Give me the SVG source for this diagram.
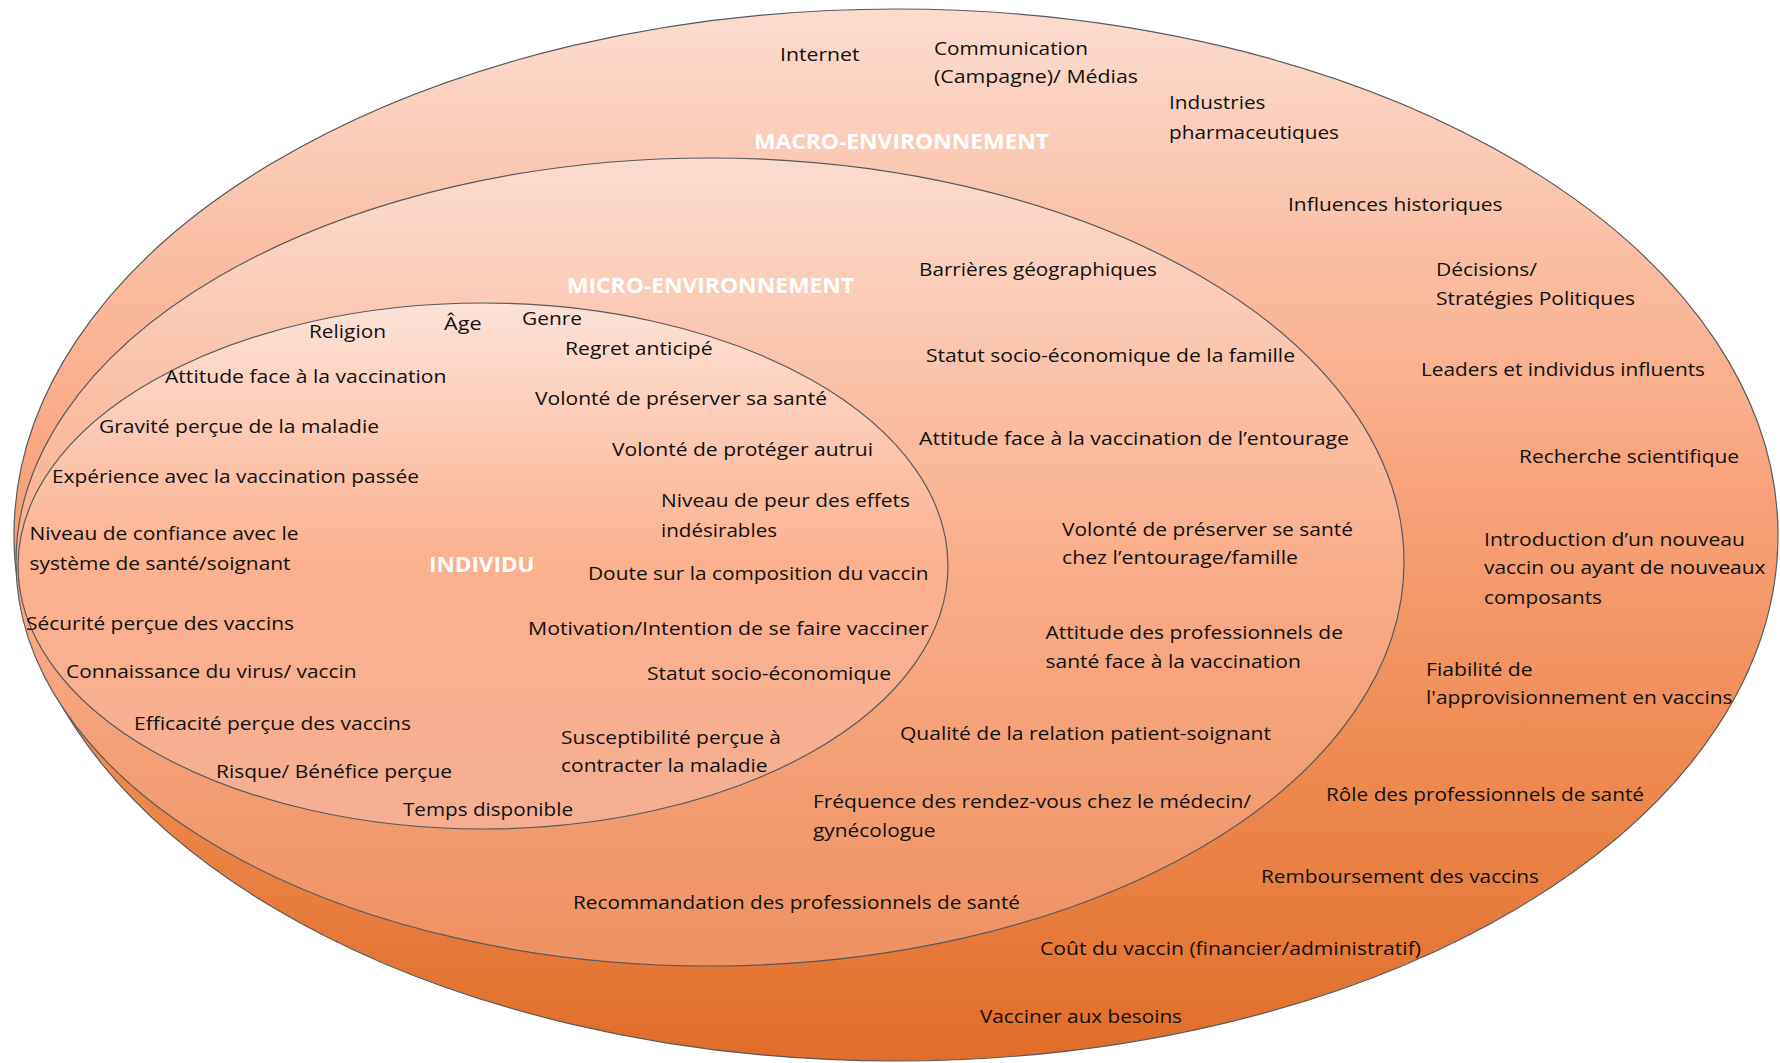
<svg xmlns="http://www.w3.org/2000/svg" width="1780" height="1063" viewBox="0 0 1780 1063">
<defs>
<linearGradient id="gOuter" x1="0" y1="0" x2="0" y2="1">
<stop offset="0" stop-color="#fcdcd0"/>
<stop offset="0.45" stop-color="#f8a37c"/>
<stop offset="0.72" stop-color="#ee8a52"/>
<stop offset="1" stop-color="#e06d28"/>
</linearGradient>
<linearGradient id="gMiddle" x1="0" y1="0" x2="0" y2="1">
<stop offset="0" stop-color="#fcdcd0"/>
<stop offset="0.5" stop-color="#f9ad8a"/>
<stop offset="1" stop-color="#ee9162"/>
</linearGradient>
<linearGradient id="gInner" x1="0" y1="0" x2="0" y2="1">
<stop offset="0" stop-color="#fde2d8"/>
<stop offset="0.5" stop-color="#fbb08e"/>
<stop offset="1" stop-color="#f5ae93"/>
</linearGradient>
<style>
.ring{stroke:#5a5a5a;stroke-width:1.2}
text{font-family:"Open Sans","Liberation Sans",sans-serif;font-size:19px;fill:#111}
.title{font-weight:bold;fill:#ffffff;font-size:22px}
</style>
</defs>

<g id="macro-environnement">
<ellipse class="ring" cx="896" cy="535" rx="882" ry="526" fill="url(#gOuter)"/>
</g>
<g id="micro-environnement">
<ellipse class="ring" cx="710" cy="562" rx="694" ry="404" fill="url(#gMiddle)"/>
</g>
<g id="individu">
<ellipse class="ring" cx="483" cy="566" rx="465" ry="263" fill="url(#gInner)"/>
</g>
<g id="connectors"/>

<g id="macro-labels">
<text class="title" x="754" y="149" textLength="295" lengthAdjust="spacingAndGlyphs">MACRO-ENVIRONNEMENT</text>
<text x="780" y="61" textLength="79.5" lengthAdjust="spacingAndGlyphs">Internet</text>
<text x="934" y="54.5" textLength="154" lengthAdjust="spacingAndGlyphs">Communication</text>
<text x="934" y="83" textLength="204" lengthAdjust="spacingAndGlyphs">(Campagne)/ Médias</text>
<text x="1169" y="109" textLength="96.5" lengthAdjust="spacingAndGlyphs">Industries</text>
<text x="1169" y="138.5" textLength="170" lengthAdjust="spacingAndGlyphs">pharmaceutiques</text>
<text x="1288" y="211" textLength="214.5" lengthAdjust="spacingAndGlyphs">Influences historiques</text>
<text x="1436" y="276" textLength="101" lengthAdjust="spacingAndGlyphs">Décisions/</text>
<text x="1436" y="305" textLength="199" lengthAdjust="spacingAndGlyphs">Stratégies Politiques</text>
<text x="1421" y="376" textLength="284" lengthAdjust="spacingAndGlyphs">Leaders et individus influents</text>
<text x="1519" y="463" textLength="220" lengthAdjust="spacingAndGlyphs">Recherche scientifique</text>
<text x="1484" y="546" textLength="261" lengthAdjust="spacingAndGlyphs">Introduction d’un nouveau</text>
<text x="1484" y="574" textLength="281.5" lengthAdjust="spacingAndGlyphs">vaccin ou ayant de nouveaux</text>
<text x="1484" y="604" textLength="118" lengthAdjust="spacingAndGlyphs">composants</text>
<text x="1426" y="675.5" textLength="106.7" lengthAdjust="spacingAndGlyphs">Fiabilité de</text>
<text x="1426" y="704" textLength="306.5" lengthAdjust="spacingAndGlyphs">l'approvisionnement en vaccins</text>
<text x="1326" y="801" textLength="318" lengthAdjust="spacingAndGlyphs">Rôle des professionnels de santé</text>
<text x="1261" y="883" textLength="278" lengthAdjust="spacingAndGlyphs">Remboursement des vaccins</text>
<text x="1040" y="955" textLength="381" lengthAdjust="spacingAndGlyphs">Coût du vaccin (financier/administratif)</text>
<text x="980" y="1023" textLength="202" lengthAdjust="spacingAndGlyphs">Vacciner aux besoins</text>
</g>

<g id="micro-labels">
<text class="title" x="567" y="293" textLength="287" lengthAdjust="spacingAndGlyphs">MICRO-ENVIRONNEMENT</text>
<text x="919" y="276" textLength="238" lengthAdjust="spacingAndGlyphs">Barrières géographiques</text>
<text x="926" y="362" textLength="369" lengthAdjust="spacingAndGlyphs">Statut socio-économique de la famille</text>
<text x="919" y="445" textLength="430" lengthAdjust="spacingAndGlyphs">Attitude face à la vaccination de l’entourage</text>
<text x="1062" y="536" textLength="291" lengthAdjust="spacingAndGlyphs">Volonté de préserver se santé</text>
<text x="1062" y="564" textLength="236" lengthAdjust="spacingAndGlyphs">chez l’entourage/famille</text>
<text x="1045.5" y="639" textLength="297.4" lengthAdjust="spacingAndGlyphs">Attitude des professionnels de</text>
<text x="1045.5" y="667.5" textLength="255.4" lengthAdjust="spacingAndGlyphs">santé face à la vaccination</text>
<text x="900" y="740" textLength="371" lengthAdjust="spacingAndGlyphs">Qualité de la relation patient-soignant</text>
<text x="813" y="808" textLength="438" lengthAdjust="spacingAndGlyphs">Fréquence des rendez-vous chez le médecin/</text>
<text x="813" y="837" textLength="122.6" lengthAdjust="spacingAndGlyphs">gynécologue</text>
<text x="573" y="909" textLength="447" lengthAdjust="spacingAndGlyphs">Recommandation des professionnels de santé</text>
</g>

<g id="individu-labels">
<text class="title" x="429" y="572" textLength="105.6" lengthAdjust="spacingAndGlyphs">INDIVIDU</text>
<text x="309" y="338" textLength="77" lengthAdjust="spacingAndGlyphs">Religion</text>
<text x="444" y="330" textLength="37.5" lengthAdjust="spacingAndGlyphs">Âge</text>
<text x="522" y="325" textLength="60" lengthAdjust="spacingAndGlyphs">Genre</text>
<text x="565" y="355" textLength="147.6" lengthAdjust="spacingAndGlyphs">Regret anticipé</text>
<text x="165" y="382.5" textLength="281.5" lengthAdjust="spacingAndGlyphs">Attitude face à la vaccination</text>
<text x="535" y="405" textLength="292" lengthAdjust="spacingAndGlyphs">Volonté de préserver sa santé</text>
<text x="99" y="432.5" textLength="280" lengthAdjust="spacingAndGlyphs">Gravité perçue de la maladie</text>
<text x="612" y="456" textLength="261" lengthAdjust="spacingAndGlyphs">Volonté de protéger autrui</text>
<text x="52" y="482.5" textLength="367" lengthAdjust="spacingAndGlyphs">Expérience avec la vaccination passée</text>
<text x="661" y="507" textLength="249" lengthAdjust="spacingAndGlyphs">Niveau de peur des effets</text>
<text x="661" y="537" textLength="116" lengthAdjust="spacingAndGlyphs">indésirables</text>
<text x="29.5" y="540" textLength="269" lengthAdjust="spacingAndGlyphs">Niveau de confiance avec le</text>
<text x="29.5" y="570" textLength="261" lengthAdjust="spacingAndGlyphs">système de santé/soignant</text>
<text x="588" y="580" textLength="340.6" lengthAdjust="spacingAndGlyphs">Doute sur la composition du vaccin</text>
<text x="26" y="630" textLength="268" lengthAdjust="spacingAndGlyphs">Sécurité perçue des vaccins</text>
<text x="528" y="634.6" textLength="400.7" lengthAdjust="spacingAndGlyphs">Motivation/Intention de se faire vacciner</text>
<text x="66" y="678" textLength="290.6" lengthAdjust="spacingAndGlyphs">Connaissance du virus/ vaccin</text>
<text x="647" y="680" textLength="244" lengthAdjust="spacingAndGlyphs">Statut socio-économique</text>
<text x="134" y="730" textLength="277" lengthAdjust="spacingAndGlyphs">Efficacité perçue des vaccins</text>
<text x="561" y="743.5" textLength="220" lengthAdjust="spacingAndGlyphs">Susceptibilité perçue à</text>
<text x="561" y="772" textLength="206.6" lengthAdjust="spacingAndGlyphs">contracter la maladie</text>
<text x="216" y="777.6" textLength="236" lengthAdjust="spacingAndGlyphs">Risque/ Bénéfice perçue</text>
<text x="403" y="816" textLength="170" lengthAdjust="spacingAndGlyphs">Temps disponible</text>
</g>
</svg>
